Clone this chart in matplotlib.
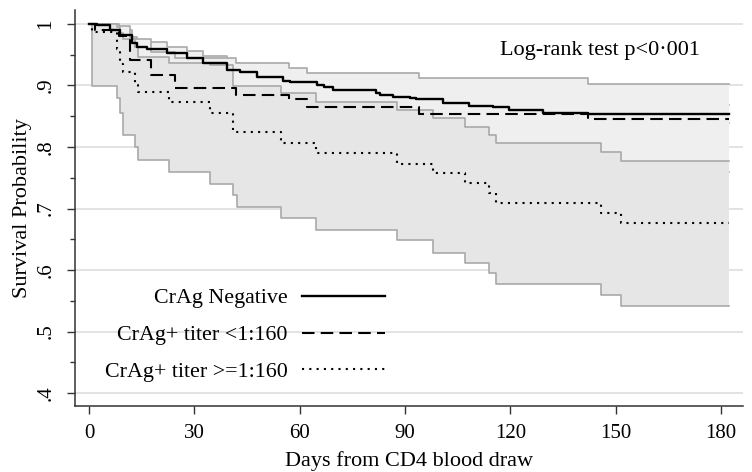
import matplotlib
matplotlib.use("Agg")
import matplotlib.pyplot as plt
import numpy as np

plt.rcParams['font.family'] = ['Liberation Serif', 'DejaVu Serif']

# CrAg negative (Kaplan-Meier estimate with 95% CI)
t_neg = [0, 2.2, 6.0, 8.8, 12.2, 13.6, 16.4, 22.1, 27.8, 32.6, 39.2, 43.0, 47.8, 55.4, 57.3,
         64.9, 66.8, 69.6, 81.8, 82.9, 86.5, 91.5, 93.2, 100.8, 108.3, 115.0, 119.7, 129.3, 142.2, 182.4]
s_neg = [1.0, 0.998, 0.990, 0.982, 0.969, 0.963, 0.959, 0.952, 0.944, 0.936, 0.925, 0.922, 0.914, 0.908, 0.906,
         0.900, 0.898, 0.892, 0.887, 0.885, 0.881, 0.879, 0.878, 0.871, 0.866, 0.865, 0.860, 0.855, 0.854, 0.854]
neg_hi = [1.0, 1.0, 0.996, 0.990, 0.979, 0.974, 0.970, 0.963, 0.956, 0.948, 0.937, 0.934, 0.927, 0.921, 0.919,
          0.913, 0.911, 0.905, 0.900, 0.898, 0.894, 0.892, 0.891, 0.885, 0.880, 0.879, 0.874, 0.869, 0.868, 0.868]
neg_lo = [1.0, 0.993, 0.982, 0.972, 0.958, 0.951, 0.946, 0.939, 0.931, 0.922, 0.911, 0.908, 0.900, 0.894, 0.892,
          0.886, 0.884, 0.878, 0.873, 0.871, 0.867, 0.865, 0.864, 0.857, 0.851, 0.850, 0.845, 0.840, 0.839, 0.839]

# CrAg+ titer <1:160
t_low = [0, 1.7, 8.5, 11.7, 17.8, 24.5, 42.0, 57.0, 62.0, 93.9, 142.2, 182.4]
s_low = [1.0, 0.990, 0.980, 0.941, 0.917, 0.896, 0.885, 0.878, 0.865, 0.854, 0.845, 0.845]
low_hi = [1.0, 1.0, 0.997, 0.975, 0.955, 0.944, 0.937, 0.929, 0.921, 0.912, 0.902, 0.902]
low_lo = [1.0, 0.930, 0.920, 0.870, 0.840, 0.815, 0.800, 0.795, 0.780, 0.770, 0.760, 0.760]

# CrAg+ titer >=1:160
t_high = [0, 0.8, 8.0, 8.8, 9.7, 13.1, 13.9, 22.9, 34.6, 41.0, 42.3, 54.8, 64.8, 87.7,
          97.9, 107.2, 114.0, 116.0, 145.8, 151.5, 182.4]
s_high = [1.0, 0.987, 0.960, 0.935, 0.922, 0.900, 0.889, 0.873, 0.855, 0.824, 0.824, 0.806, 0.790, 0.773,
          0.757, 0.742, 0.725, 0.709, 0.693, 0.676, 0.676]
high_hi = [1.0, 1.0, 0.995, 0.985, 0.975, 0.962, 0.947, 0.936, 0.934, 0.899, 0.899, 0.887, 0.873, 0.860,
           0.847, 0.833, 0.820, 0.806, 0.792, 0.778, 0.778]
high_lo = [1.0, 0.899, 0.879, 0.855, 0.820, 0.800, 0.779, 0.760, 0.740, 0.722, 0.702, 0.684, 0.665, 0.649,
           0.628, 0.611, 0.595, 0.577, 0.559, 0.541, 0.541]

labels = ['CrAg Negative', 'CrAg+ titer <1:160', 'CrAg+ titer >=1:160']
x_ticks = [0, 30, 60, 90, 120, 150, 180]
y_ticks = [0.4, 0.5, 0.6, 0.7, 0.8, 0.9, 1.0]
y_ticklabels = ['.4', '.5', '.6', '.7', '.8', '.9', '1']

fig = plt.figure(figsize=(7.52, 4.72), dpi=100)
ax = fig.add_axes([0.0997, 0.1398, 0.8883, 0.8394])

edge = '#a9a9a9'
bands = [
    (t_neg, neg_lo, neg_hi, '#f1f1f1'),
    (t_low, low_lo, low_hi, '#efefef'),
    (t_high, high_lo, high_hi, '#e6e6e6'),
]
for t, lo, hi, fc in bands:
    ax.fill_between(t, lo, hi, step='post', facecolor=fc, edgecolor='none', zorder=2)
    ax.step(t, hi, where='post', color=edge, lw=1.2, zorder=2)
    ax.step(t, lo, where='post', color=edge, lw=1.2, zorder=2)

ax.step(t_neg, s_neg, where='post', color='black', lw=1.7, zorder=5, label=labels[0])
ax.step(t_low, s_low, where='post', color='black', lw=1.5, zorder=5,
        dashes=(6, 3), label=labels[1])
ax.step(t_high, s_high, where='post', color='black', lw=1.5, zorder=5,
        dashes=(1, 2.5), label=labels[2])

ax.set_xlim(-4, 186.3)
ax.set_ylim(0.379, 1.023)

for yv in y_ticks:
    ax.axhline(yv, color='#dedede', lw=1.2, zorder=1)

ax.set_xticks(x_ticks)
ax.set_yticks(y_ticks)
ax.set_yticklabels(y_ticklabels)
ax.set_yticks(np.arange(0.45, 1.0, 0.1), minor=True)
ax.tick_params(axis='both', which='major', direction='out', length=6, width=1,
               labelsize=15, color='#333333')
ax.tick_params(axis='y', which='major', labelrotation=90, pad=8)
ax.tick_params(axis='x', which='major', pad=7)
ax.tick_params(axis='y', which='minor', direction='out', length=3.5, width=1, color='#333333')
for lab in ax.get_yticklabels():
    lab.set_va('center')

for side in ['top', 'right']:
    ax.spines[side].set_visible(False)
for side in ['left', 'bottom']:
    ax.spines[side].set_color('#333333')
    ax.spines[side].set_linewidth(1.1)

ax.set_xlabel('Days from CD4 blood draw', fontsize=16, labelpad=6)
ax.set_ylabel('Survival Probability', fontsize=16, labelpad=3)

ax.text(0.786, 0.897, 'Log-rank test p<0\u00b7001', transform=ax.transAxes,
        ha='center', va='center', fontsize=16)

ax.legend(loc='center right', bbox_to_anchor=(0.464, 0.179), frameon=False,
          markerfirst=False, fontsize=15.8, handlelength=3.8, handletextpad=0.65,
          labelspacing=0.75, borderpad=0, borderaxespad=0)

fig.savefig('out.png', dpi=100)
